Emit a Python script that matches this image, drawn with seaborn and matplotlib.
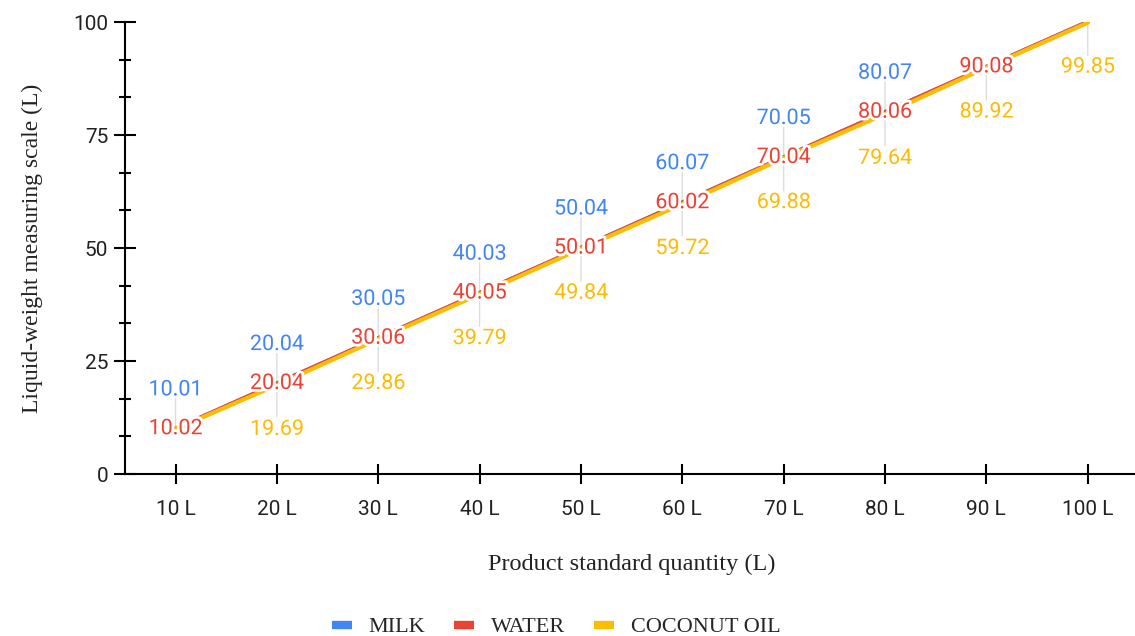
import pandas as pd
import seaborn as sns
import matplotlib.pyplot as plt
import matplotlib.patheffects as pe
from matplotlib.ticker import MultipleLocator

# chart data
quantities = ['10 L', '20 L', '30 L', '40 L', '50 L', '60 L', '70 L', '80 L', '90 L', '100 L']
milk = [10.01, 20.04, 30.05, 40.03, 50.04, 60.07, 70.05, 80.07, 90.06, 100.04]
water = [10.02, 20.04, 30.06, 40.05, 50.01, 60.02, 70.04, 80.06, 90.08, 100.02]
coconut_oil = [9.95, 19.69, 29.86, 39.79, 49.84, 59.72, 69.88, 79.64, 89.92, 99.85]
series_names = ['MILK', 'WATER', 'COCONUT OIL']
colors = ['#4285F4', '#EA4335', '#FBBC04']

# labels hidden in the reference (overlapping ones)
hidden = {'MILK': [8, 9], 'WATER': [9], 'COCONUT OIL': [0]}

rows = []
for name, vals in zip(series_names, [milk, water, coconut_oil]):
    for q, v in zip(quantities, vals):
        rows.append({'Quantity': q, 'Value': v, 'Series': name})
df = pd.DataFrame(rows)

sns.set_style('white')
plt.rcParams['font.family'] = ['Roboto', 'DejaVu Sans']

fig = plt.figure(figsize=(11.35, 6.36), dpi=100)
ax = fig.add_axes([0.110, 0.2547, 0.893, 0.7107])

sns.lineplot(data=df, x='Quantity', y='Value', hue='Series', hue_order=series_names,
             palette=colors, linewidth=3, sort=False, ax=ax, legend=True, zorder=3)

# gray leader lines from top label to bottom label
leader = dict(arrowstyle='-', color='#dddddd', lw=1, shrinkA=0, shrinkB=0)
for i in range(len(quantities)):
    top = 22 if i not in hidden['MILK'] else 0
    bot = -24 if i not in hidden['COCONUT OIL'] else 0
    for off in (top, bot):
        if off:
            ax.annotate('', xy=(i, water[i]), xytext=(0, off), textcoords='offset points',
                        arrowprops=leader, zorder=1)

# data labels with white halo
halo = [pe.withStroke(linewidth=4, foreground='white')]
offsets = {'MILK': 28, 'WATER': 0, 'COCONUT OIL': -32}
for name, vals, col in zip(series_names, [milk, water, coconut_oil], colors):
    for i, v in enumerate(vals):
        if i in hidden[name]:
            continue
        ax.annotate(f'{v:.2f}', xy=(i, v), xytext=(0, offsets[name]),
                    textcoords='offset points', ha='center', va='center',
                    color=col, fontsize=15.5, zorder=5, path_effects=halo)

ax.set_xlim(-0.5, 9.5)
ax.set_ylim(0, 100)
ax.yaxis.set_major_locator(MultipleLocator(25))
ax.yaxis.set_minor_locator(MultipleLocator(25 / 3))
ax.tick_params(axis='y', which='major', direction='inout', length=16, width=1.5,
               labelsize=15, colors='black', labelcolor='#222222', pad=4, left=True)
ax.tick_params(axis='y', which='minor', direction='inout', length=8, width=1.5,
               colors='black', left=True)
ax.tick_params(axis='x', which='major', direction='inout', length=15, width=1.5,
               labelsize=15, colors='black', labelcolor='#222222', pad=11, bottom=True)

sns.despine(ax=ax)
for s in ['left', 'bottom']:
    ax.spines[s].set_linewidth(1.5)
    ax.spines[s].set_color('black')

ax.set_xlabel('Product standard quantity (L)', family='Liberation Serif', fontsize=17.5,
              color='#222222', labelpad=25)
ax.set_ylabel('Liquid-weight measuring scale (L)', family='Liberation Serif', fontsize=17,
              color='#222222', labelpad=22)

handles, labels = ax.get_legend_handles_labels()
ax.get_legend().remove()
for h in handles:
    h.set_linewidth(6)
    h.set_solid_capstyle('butt')
fig.legend(handles, labels, loc='center', bbox_to_anchor=(0.49, 0.014), ncol=3,
           frameon=False, handlelength=0.9, handletextpad=0.75, columnspacing=1.3,
           prop={'family': 'Liberation Serif', 'size': 16})

fig.savefig('out.png', dpi=100)
